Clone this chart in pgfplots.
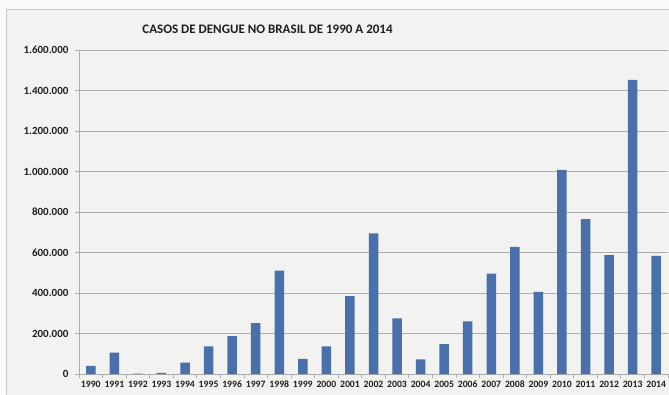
\documentclass[border=0pt]{standalone}
\usepackage{fontspec}
\setmainfont{Carlito}
\usepackage{pgfplots}
\pgfplotsset{compat=1.18}

\definecolor{barblue}{HTML}{4A70AC}
\definecolor{chartbg}{HTML}{F2F2F0}
\definecolor{outerbg}{HTML}{FAFAFA}
\definecolor{framegray}{HTML}{C8C8C8}
\definecolor{gridgray}{HTML}{ADADAD}
\definecolor{labelgray}{HTML}{1E1E1E}

\begin{document}
\begin{tikzpicture}
  % page background and chart area
  \fill[outerbg] (-79pt,-20pt) rectangle (590pt,374pt);
  \fill[chartbg] (-72pt,-40pt) rectangle (620pt,364pt);
  \draw[framegray, line width=1pt] (-72pt,-40pt) -- (-72pt,364pt) -- (620pt,364pt);

  \begin{axis}[
    at={(0pt,0pt)}, anchor=south west,
    scale only axis,
    width=589pt, height=324pt,
    xmin=-0.5, xmax=24.5,
    ymin=0, ymax=1600000,
    scaled y ticks=false,
    axis x line*=bottom,
    axis y line*=left,
    axis line style={gridgray, line width=0.9pt},
    tick align=outside,
    major tick length=4pt,
    minor tick length=4pt,
    xtick={0,...,24},
    xticklabels={1990,1991,1992,1993,1994,1995,1996,1997,1998,1999,2000,2001,2002,2003,2004,2005,2006,2007,2008,2009,2010,2011,2012,2013,2014},
    major x tick style={draw=none},
    minor xtick={-0.5,0.5,...,24.5},
    minor x tick style={gridgray, line width=0.8pt},
    ytick={0,200000,400000,600000,800000,1000000,1200000,1400000,1600000},
    yticklabels={0,200.000,400.000,600.000,800.000,1.000.000,1.200.000,1.400.000,1.600.000},
    major y tick style={gridgray, line width=0.8pt},
    ymajorgrids,
    grid style={gridgray, line width=0.8pt},
    xticklabel style={font=\fontsize{9.7}{10}\selectfont\bfseries, text=labelgray,
      text height=6.5pt, text depth=0pt, yshift=0.5pt},
    yticklabel style={font=\fontsize{11}{12}\selectfont\bfseries, text=labelgray,
      xshift=-3pt},
    axis background/.style={fill=none},
    clip=false,
  ]
    \addplot[ybar, bar width=9.5pt, fill=barblue, draw=none] coordinates {
      (0,40000) (1,105000) (2,2000) (3,6000) (4,56000)
      (5,137000) (6,187000) (7,251000) (8,510000) (9,75000)
      (10,137000) (11,385000) (12,695000) (13,275000) (14,72000)
      (15,147000) (16,260000) (17,496000) (18,628000) (19,405000)
      (20,1008000) (21,765000) (22,587000) (23,1452000) (24,583000)
    };
  \end{axis}

  \node[font=\fontsize{13}{15}\selectfont\bfseries, text=labelgray] at (188.5pt,345pt)
    {CASOS DE DENGUE NO BRASIL DE 1990 A 2014};

  \pgfresetboundingbox
  \useasboundingbox (-79pt,-20pt) rectangle (590pt,374pt);
\end{tikzpicture}
\end{document}
